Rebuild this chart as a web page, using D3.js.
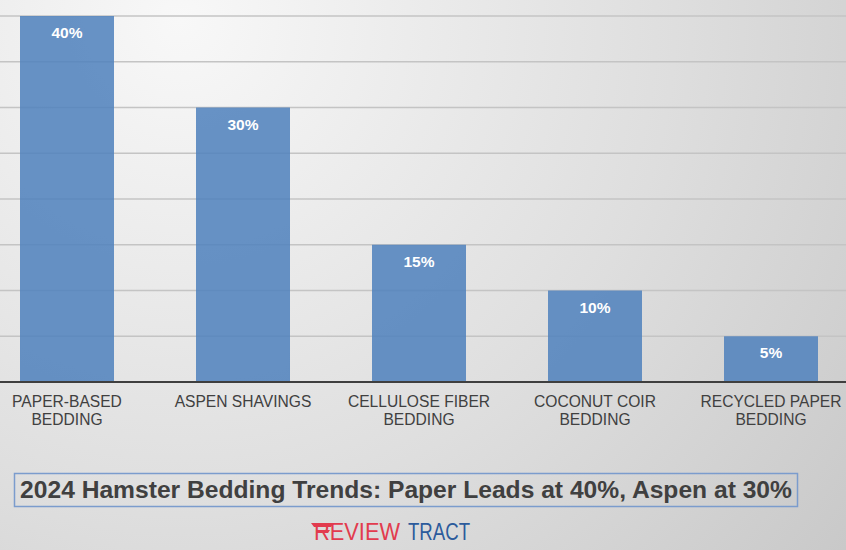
<!DOCTYPE html>
<html><head><meta charset="utf-8">
<script src="https://cdn.jsdelivr.net/npm/d3@7"></script>
<style>html,body{margin:0;padding:0;overflow:hidden;}svg{display:block;}</style>
</head><body>
<svg id="c" width="846" height="550"></svg>
<script>
const categories = [["PAPER-BASED","BEDDING"],["ASPEN SHAVINGS"],["CELLULOSE FIBER","BEDDING"],["COCONUT COIR","BEDDING"],["RECYCLED PAPER","BEDDING"]];
const values = [40, 30, 15, 10, 5];
const gridTicks = [5, 10, 15, 20, 25, 30, 35, 40];
const title = "2024 Hamster Bedding Trends: Paper Leads at 40%, Aspen at 30%";

const W = 846, H = 550;
const svg = d3.select("#c");
const defs = svg.append("defs");
const rg = defs.append("radialGradient").attr("id","bg").attr("gradientUnits","userSpaceOnUse")
  .attr("cx",180).attr("cy",20).attr("r",900);
rg.append("stop").attr("offset","0").attr("stop-color","#f8f8f8");
rg.append("stop").attr("offset","0.55").attr("stop-color","#dedede");
rg.append("stop").attr("offset","1").attr("stop-color","#c6c6c6");
svg.append("rect").attr("width",W).attr("height",H).attr("fill","url(#bg)");

const keys = categories.map((c,i)=>"c"+i);
const x = d3.scaleBand().domain(keys).range([-21, 859]).paddingInner(0.466).paddingOuter(0.233);
const y = d3.scaleLinear().domain([0, 40]).range([382, 16]);

// gridlines
svg.append("g").selectAll("line").data(gridTicks).join("line")
  .attr("x1",0).attr("x2",W).attr("y1",d=>y(d)).attr("y2",d=>y(d))
  .attr("stroke","#c4c4c4").attr("stroke-width",1.6);

// bars
svg.append("g").selectAll("rect").data(values).join("rect")
  .attr("x",(d,i)=>x(keys[i])).attr("width",x.bandwidth())
  .attr("y",d=>y(d)).attr("height",d=>y(0)-y(d))
  .attr("fill","#4f81bd").attr("fill-opacity",0.86);

// axis line
svg.append("line").attr("x1",0).attr("x2",W).attr("y1",y(0)).attr("y2",y(0))
  .attr("stroke","#3f3f3f").attr("stroke-width",2);

// data labels
svg.append("g").selectAll("text").data(values).join("text")
  .attr("x",(d,i)=>x(keys[i])+x.bandwidth()/2).attr("y",d=>y(d)+22)
  .attr("text-anchor","middle").attr("fill","#ffffff")
  .attr("font-family","Liberation Sans, Arial, sans-serif").attr("font-weight","bold").attr("font-size",15.5)
  .text(d=>d+"%");

// category labels
const cl = svg.append("g").selectAll("text").data(categories).join("text")
  .attr("x",(d,i)=>x(keys[i])+x.bandwidth()/2).attr("y",407)
  .attr("text-anchor","middle").attr("fill","#404040")
  .attr("font-family","Liberation Sans, Arial, sans-serif").attr("font-size",15.6);
cl.each(function(d){
  const t = d3.select(this);
  d.forEach((line,j)=>{
    t.append("tspan").attr("x",t.attr("x")).attr("dy",j===0?0:18).text(line);
  });
});

// title box
svg.append("rect").attr("x",14.5).attr("y",473.5).attr("width",783).attr("height",33)
  .attr("fill","none").attr("stroke","#7b9ccd").attr("stroke-width",1.5);
const tt = svg.append("text").attr("x",406).attr("y",498).attr("text-anchor","middle")
  .attr("fill","#404040").attr("font-family","Liberation Sans, Arial, sans-serif")
  .attr("font-weight","bold").attr("font-size",22).text(title);
const tw = tt.node().getComputedTextLength();
if (tw > 0) tt.attr("font-size", 22 * 772 / tw);

// logo
const logo = svg.append("g");
logo.append("path").attr("d","M311,523 L334,523 L331,527 L314,527 Z").attr("fill","#e23b4e");
logo.append("path").attr("d","M316,530 L330,530 L328,533 L318,533 Z").attr("fill","#e23b4e");
logo.append("text").attr("x",314).attr("y",540).attr("fill","#e23b4e")
  .attr("font-family","Liberation Sans, Arial, sans-serif").attr("font-size",23)
  .attr("textLength",86).attr("lengthAdjust","spacingAndGlyphs").text("REVIEW");
logo.append("text").attr("x",408).attr("y",540).attr("fill","#2c5b9c")
  .attr("font-family","Liberation Sans, Arial, sans-serif").attr("font-size",23)
  .attr("textLength",62).attr("lengthAdjust","spacingAndGlyphs").text("TRACT");
</script>
</body></html>
